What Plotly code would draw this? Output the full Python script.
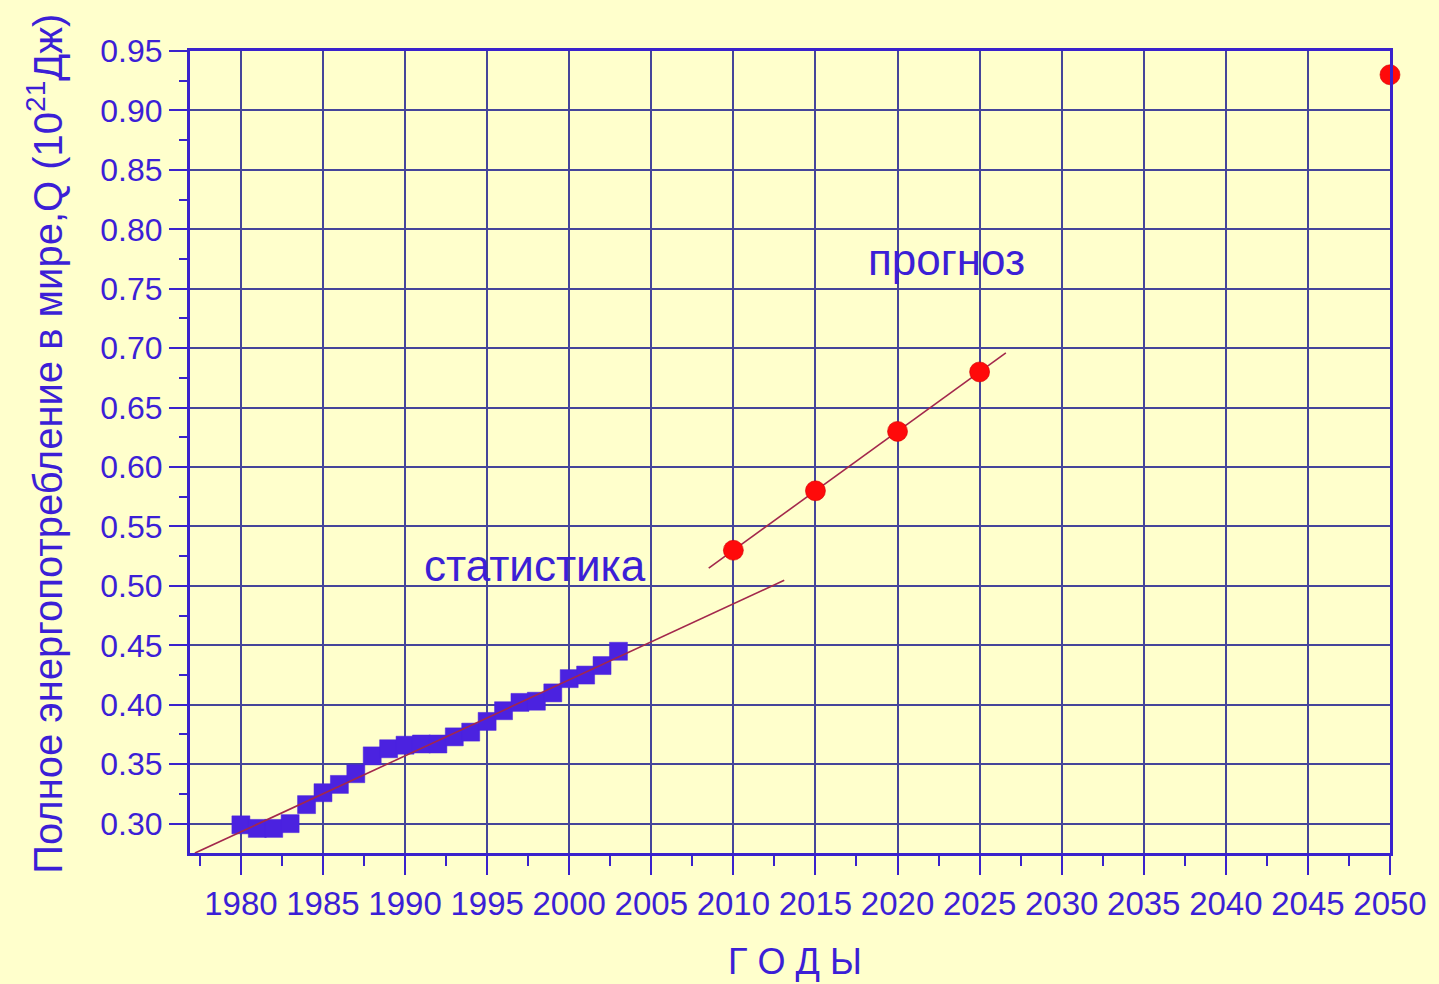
import numpy as np
import plotly.graph_objects as go

# Statistics: world total energy consumption, 10^21 J
years_stat = list(range(1980, 2004))
q_stat = [0.299, 0.296, 0.296, 0.300, 0.316, 0.326, 0.333, 0.342, 0.357, 0.363,
          0.366, 0.367, 0.367, 0.373, 0.377, 0.386, 0.395, 0.402, 0.403, 0.410,
          0.422, 0.425, 0.433, 0.445]

# Forecast values
years_fc = [2010, 2015, 2020, 2025, 2050]
q_fc = [0.53, 0.58, 0.63, 0.68, 0.93]

# Extent of the two trend lines (years)
stat_trend_span = [1977.2, 2013.1]
fc_trend_span = [2008.5, 2026.6]

x_ticks = list(range(1980, 2051, 5))
x_tick_text = [str(v) for v in x_ticks]
y_ticks = [round(0.30 + 0.05 * i, 2) for i in range(14)]
y_tick_text = [f"{v:.2f}" for v in y_ticks]

BG = "#FFFFCC"
TXT = "#3C1FD6"
AXIS = "#3A22CC"
GRID = "#45459A"
TREND = "#A3284C"
FONT = "Liberation Sans, Arial, sans-serif"

# Linear trends fitted through each group
k1, b1 = np.polyfit(years_stat, q_stat, 1)
tx1 = np.array(stat_trend_span)
k2, b2 = np.polyfit(years_fc[:4], q_fc[:4], 1)
tx2 = np.array(fc_trend_span)

fig = go.Figure()

fig.add_trace(go.Scatter(
    x=years_stat, y=q_stat, mode="markers",
    marker=dict(symbol="square", size=18, color="#4B22E0",
                line=dict(width=0.5, color="#4B22E0")),
    showlegend=False,
))
fig.add_trace(go.Scatter(
    x=tx1, y=k1 * tx1 + b1, mode="lines",
    line=dict(color=TREND, width=1.6), showlegend=False,
))
fig.add_trace(go.Scatter(
    x=tx2, y=k2 * tx2 + b2, mode="lines",
    line=dict(color=TREND, width=1.6), showlegend=False,
))
fig.add_trace(go.Scatter(
    x=years_fc, y=q_fc, mode="markers",
    marker=dict(symbol="circle", size=20, color="#FF0A0A",
                line=dict(width=0.6, color="#D00000")),
    cliponaxis=False, showlegend=False,
))

fig.update_xaxes(
    range=[1976.9, 2050.0005], tickvals=x_ticks, ticktext=x_tick_text,
    tickangle=0, ticks="outside", ticklen=19,
    tickwidth=2, tickcolor=AXIS, showline=True, linecolor=AXIS, linewidth=3,
    mirror=True, showgrid=True, gridcolor=GRID, gridwidth=2, zeroline=False,
    tickfont=dict(family=FONT, size=33, color=TXT),
    minor=dict(tick0=1977.5, dtick=2.5, ticks="outside", ticklen=10,
               tickwidth=2, tickcolor=AXIS, showgrid=False),
)
fig.update_yaxes(
    range=[0.2753, 0.95], tickvals=y_ticks, ticktext=y_tick_text,
    ticks="outside", ticklen=18, tickwidth=2, tickcolor=AXIS,
    showline=True, linecolor=AXIS, linewidth=3, mirror=True,
    showgrid=True, gridcolor=GRID, gridwidth=2, zeroline=False,
    tickfont=dict(family=FONT, size=32, color=TXT),
    minor=dict(tick0=0.275, dtick=0.025, ticks="outside", ticklen=8,
               tickwidth=2, tickcolor=AXIS, showgrid=False),
)

fig.add_annotation(x=1997.9, y=0.517, xref="x", yref="y", text="статистика",
                   showarrow=False, font=dict(family=FONT, size=44, color=TXT))
fig.add_annotation(x=2023.0, y=0.775, xref="x", yref="y", text="прогноз",
                   showarrow=False, font=dict(family=FONT, size=44, color=TXT))
fig.add_annotation(x=-0.121, y=0.51, xref="paper", yref="paper",
                   xanchor="center", yanchor="middle",
                   text="Полное энергопотребление в мире,Q (10<sup>21</sup>Дж)",
                   textangle=-90, showarrow=False,
                   font=dict(family=FONT, size=40, color=TXT))
fig.add_annotation(x=0.504, y=-0.135, xref="paper", yref="paper",
                   xanchor="center", yanchor="middle",
                   text="Г О Д Ы", showarrow=False,
                   font=dict(family=FONT, size=36, color=TXT))

fig.update_layout(
    width=1439, height=984,
    margin=dict(l=190, r=49, t=51, b=131),
    paper_bgcolor=BG, plot_bgcolor=BG,
)

fig.write_html("out.html")
